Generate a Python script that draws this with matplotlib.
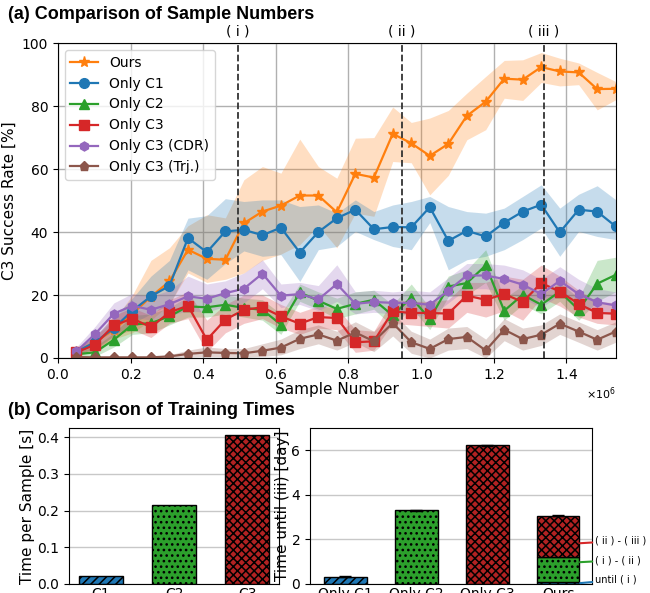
import matplotlib
matplotlib.use("Agg")
import matplotlib.pyplot as plt
import numpy as np

# muestras (x1e6)
muestras = [0.051, 0.102, 0.154, 0.205, 0.256, 0.307, 0.358, 0.410, 0.461, 0.512,
            0.563, 0.614, 0.666, 0.717, 0.768, 0.819, 0.870, 0.922, 0.973, 1.024,
            1.075, 1.126, 1.178, 1.229, 1.280, 1.331, 1.382, 1.434, 1.485, 1.536]

ours = [2, 5, 9, 14, 19.5, 24.3, 34.4, 31.5, 31.2, 42.8, 46.5, 48.4, 51.6, 51.6, 46.3,
        58.5, 57.3, 71.2, 68.2, 64.2, 68, 76.9, 81.4, 88.7, 88.4, 92.4, 91, 90.7, 85.4, 85.5]
ours_hi = [3, 7, 12, 20, 31, 35, 42, 45.5, 44.5, 56.6, 60.8, 58.7, 69.5, 60.8, 57.1,
           69.8, 70, 79.7, 74.8, 76.2, 78.6, 84.1, 89.4, 94.5, 94.7, 97, 95.2, 93.7, 90.7, 87.8]
ours_lo = [1, 3, 6, 8, 12, 17, 27, 24, 25, 27, 31, 33, 36, 42, 35,
           46, 45, 62.4, 62, 51.8, 58, 69.3, 72.5, 82.5, 81.8, 87.5, 86.4, 86.8, 78.8, 82]

c1 = [2, 5, 9.5, 15, 19.6, 22.9, 38.1, 33.6, 40.2, 40.7, 39, 41.4, 33.5, 40, 44.4,
      47.1, 40.9, 41.6, 41.5, 47.9, 37.2, 40.4, 38.6, 43, 46.5, 48.7, 39.9, 47.1, 46.5, 41.8]
c1_hi = [3, 7, 13, 19, 26, 31, 44.4, 45.2, 50.6, 49.7, 50.2, 50.2, 48.1, 48.6, 46,
         50.2, 46.5, 48.6, 49.7, 51.3, 48.1, 46.5, 46, 47.6, 51.3, 55, 47.6, 52, 54.7, 50.3]
c1_lo = [1, 3, 7, 11, 14, 17, 28, 25, 30, 34, 32.3, 32.8, 24.3, 34.4, 35.4,
         40.2, 37.6, 35.4, 34.4, 43, 28, 31.2, 32.3, 34.4, 37.6, 41.3, 32.3, 40.2, 38.6, 37.6]

c2 = [1.2, 1.8, 5.8, 10.6, 11.1, 13.2, 16.4, 16.1, 16.9, 15.9, 15.3, 10.6, 20.8, 18.2, 15.6,
      17.2, 18.5, 13.5, 19.2, 12.4, 22.7, 23.8, 29.4, 15, 20.1, 16.9, 21.1, 15.3, 23.6, 26.4]
c2_hi = [2, 3.5, 8, 13.5, 14, 16, 19.5, 19.5, 20, 19, 18.5, 14, 23.5, 21, 19,
         21, 21.5, 17, 23.5, 16, 26, 28, 34.4, 19, 23, 20, 24, 19, 31, 32]
c2_lo = [0.5, 0.5, 3.5, 7.5, 8, 10.5, 13, 13, 14, 13, 12, 7.5, 18, 15.5, 12.5,
         14, 15.5, 10, 16, 9, 19.5, 20, 24, 12, 17, 14, 18, 12, 18, 21]

c3 = [1.8, 4.2, 10.4, 12.5, 9.8, 14.5, 16.6, 5.8, 12.2, 15.3, 16.1, 13.2, 10.9, 13, 12.7,
      5, 5.3, 14.8, 14.3, 14.3, 14.1, 19.8, 18.5, 20.3, 17.8, 23.8, 21.1, 17.2, 14.3, 14.1]
c3_hi = [3, 6.5, 13.5, 16, 13.5, 18.5, 21, 12, 17, 20, 20, 17, 14.5, 16.5, 16,
         9, 8.5, 18.5, 18, 18, 18.5, 24, 24, 26, 25, 29.5, 26, 21.5, 18, 17.5]
c3_lo = [0.8, 2, 7, 9, 6.5, 11, 12.5, 2, 8, 11, 12.5, 9.5, 7.5, 9.5, 9,
         1.8, 2.5, 11, 10.5, 10, 9.5, 14.5, 13, 15, 12, 19, 16.5, 13, 11, 10.5]

cdr = [2.1, 7.6, 14.1, 16.6, 15.3, 17.1, 19.6, 18.8, 20.6, 22, 26.8, 19.8, 20.3, 18.6, 23.5,
       17.2, 17.8, 17.5, 17.5, 16.9, 21.4, 26.2, 26.2, 25.1, 23.3, 20.3, 24.5, 20.3, 17.7, 16.7]
cdr_hi = [3.5, 10, 17.5, 20.5, 19.5, 21.5, 26, 23.5, 24.5, 27, 31.2, 23.5, 24, 23, 29.6,
          21, 21.5, 21, 21.5, 21, 25.5, 30, 30, 29.5, 28, 25, 29, 25, 22, 21]
cdr_lo = [1, 5, 11, 13, 12, 13.5, 15, 14.5, 16.5, 17.5, 22, 16, 17, 15, 18,
          14, 14.5, 14, 14, 13, 17.5, 22, 22, 21, 19, 16, 20, 16, 14.5, 13.5]

trj = [0.3, 0.2, 0.2, 0.2, 0.2, 0.5, 1.3, 1.8, 1.6, 1.5, 2.3, 3.3, 6.1, 7.5, 5.5,
       8.1, 5.3, 11.1, 5, 2.9, 6, 6.7, 2.4, 9, 6, 7.4, 10.9, 8.4, 5.8, 8.4]
trj_hi = [0.6, 0.5, 0.5, 0.5, 0.5, 1, 2.5, 3.5, 3, 3, 4.5, 6, 9, 10.5, 8.5,
          11.5, 8.5, 14.4, 8.5, 6, 9.5, 10, 6, 12.5, 9.5, 10.5, 14, 11.5, 9, 11.5]
trj_lo = [0, 0, 0, 0, 0, 0.1, 0.3, 0.5, 0.4, 0.3, 0.5, 1, 3, 4.5, 2.5,
          5, 2, 7, 1.5, 0, 2.5, 3, 0, 5.5, 2.5, 4, 7.5, 5, 2.5, 5]

etapas_x = [0.495, 0.948, 1.338]
etapas_txt = ['( i )', '( ii )', '( iii )']

# tiempos
curricula = ['C1', 'C2', 'C3']
tiempo_por_muestra = [0.021, 0.214, 0.405]
metodos = ['Only C1', 'Only C2', 'Only C3', 'Ours']
dias_only = [0.33, 3.3, 6.22]
dias_ours = [0.1, 1.12, 1.84]   # until (i), (i)-(ii), (ii)-(iii)
etapas_ours_txt = ['until ( i )', '( i ) - ( ii )', '( ii ) - ( iii )']

azul = '#1f77b4'
verde = '#2ca02c'
rojo_barra = '#b22222'

plt.rcParams['hatch.linewidth'] = 1.1

fig = plt.figure(figsize=(6.5, 5.93), dpi=100)

# --- (a)
ax = fig.add_axes([0.0892, 0.3963, 0.858, 0.531])
x = np.array(muestras) * 1e6
series = [
    ('Ours', ours, ours_lo, ours_hi, '#ff7f0e', '*', 8),
    ('Only C1', c1, c1_lo, c1_hi, azul, 'o', 7),
    ('Only C2', c2, c2_lo, c2_hi, verde, '^', 7),
    ('Only C3', c3, c3_lo, c3_hi, '#d62728', 's', 7),
    ('Only C3 (CDR)', cdr, cdr_lo, cdr_hi, '#9467bd', 'h', 6.5),
    ('Only C3 (Trj.)', trj, trj_lo, trj_hi, '#8c564b', 'p', 6.5),
]
for nombre, y, lo, hi, col, mk, ms in series:
    ax.fill_between(x, lo, hi, color=col, alpha=0.25, linewidth=0)
    ax.plot(x, y, color=col, marker=mk, markersize=ms, linewidth=1.6, label=nombre)

for xv, txt in zip(etapas_x, etapas_txt):
    ax.axvline(xv * 1e6, color='#333333', linestyle='--', linewidth=1.3)
    ax.text(xv * 1e6, 101.5, txt, ha='center', va='bottom', fontsize=10)

ax.set_xlim(0, x[-1])
ax.set_ylim(0, 100)
ax.grid(True, color='#b0b0b0', linewidth=1)
ax.set_axisbelow(True)
ax.ticklabel_format(axis='x', style='sci', scilimits=(0, 0), useMathText=True)
ax.xaxis.get_offset_text().set_fontsize(8)
ax.tick_params(labelsize=10)
ax.set_xlabel('Sample Number', fontsize=11, labelpad=0)
ax.set_ylabel('C3 Success Rate [%]', fontsize=11)
ax.legend(loc='upper left', fontsize=10, framealpha=0.8)

fig.text(8 / 650, 0.976, '(a) Comparison of Sample Numbers', fontsize=13,
         fontweight='bold', family='Liberation Sans', va='center', ha='left')
fig.text(8 / 650, 0.3086, '(b) Comparison of Training Times', fontsize=13,
         fontweight='bold', family='Liberation Sans', va='center', ha='left')

# --- (b) izquierda
ax1 = fig.add_axes([0.1062, 0.01518, 0.323, 0.263])
colores = [azul, verde, rojo_barra]
tramas = ['////', '...', 'xxxx']
barras = ax1.bar(curricula, tiempo_por_muestra, width=0.6, color=colores,
                 edgecolor='black', linewidth=1)
for b, h in zip(barras, tramas):
    b.set_hatch(h)
ax1.set_ylim(0, 0.425)
ax1.set_yticks([0.0, 0.1, 0.2, 0.3, 0.4])
ax1.grid(True, axis='y', color='#c8c8c8', linewidth=1)
ax1.set_axisbelow(True)
ax1.tick_params(labelsize=10)
ax1.tick_params(axis='x', length=0, pad=2)
ax1.set_ylabel('Time per Sample [s]', fontsize=11, labelpad=2)

# --- (b) derecha
ax2 = fig.add_axes([0.477, 0.01518, 0.434, 0.263])
xb = np.arange(len(metodos))
for i in range(3):
    ax2.bar(xb[i], dias_only[i], width=0.6, color=colores[i], edgecolor='black',
            hatch=tramas[i], linewidth=1, yerr=0.02, capsize=4,
            error_kw=dict(elinewidth=1, capthick=1))
base = 0
for i in range(3):
    ax2.bar(xb[3], dias_ours[i], bottom=base, width=0.6, color=colores[i],
            edgecolor='black', hatch=tramas[i], linewidth=1)
    base += dias_ours[i]
ax2.errorbar(xb[3], base, yerr=0.02, color='black', capsize=4, elinewidth=1, capthick=1)
ax2.set_xticks(xb)
ax2.set_xticklabels(metodos)
ax2.set_xlim(-0.5, 3.48)
ax2.set_ylim(0, 7)
ax2.set_yticks([0, 2, 4, 6])
ax2.grid(True, axis='y', color='#c8c8c8', linewidth=1)
ax2.set_axisbelow(True)
ax2.tick_params(labelsize=10)
ax2.tick_params(axis='x', length=0, pad=2)
ax2.set_ylabel('Time until (iii) [day]', fontsize=11, labelpad=1)

puntas = [(0.04, 0.18), (0.98, 1.07), (1.83, 1.94)]
col_eti = [azul, verde, '#d62728']
for txt, (y0, y1), c in zip(etapas_ours_txt, puntas, col_eti):
    ax2.annotate(txt, xy=(3.31, y0), xytext=(3.52, y1), fontsize=7, va='center',
                 ha='left', annotation_clip=False,
                 arrowprops=dict(arrowstyle='-', color=c, lw=1.5, shrinkA=0, shrinkB=0))

plt.savefig('out.png', dpi=100)
